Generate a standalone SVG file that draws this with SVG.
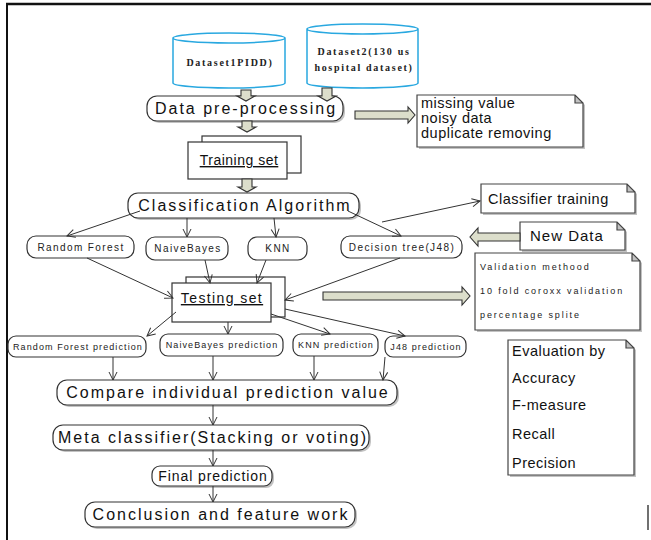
<svg xmlns="http://www.w3.org/2000/svg" width="651" height="540" viewBox="0 0 651 540">
<style>
.box{fill:#fff;stroke:#333;stroke-width:1.2}
.sh{fill:#9a9a9a;stroke:none;opacity:0.6}
.note{fill:#fff;stroke:#444;stroke-width:1.2}
.cyl{fill:#fff;stroke:#29a8e0;stroke-width:1.5}
.big{font-family:"Liberation Sans",Arial,sans-serif;font-size:16px;letter-spacing:2px;fill:#111;text-anchor:middle}
.mid{font-family:"Liberation Sans",Arial,sans-serif;font-size:14.5px;letter-spacing:0.5px;fill:#111}
.sm{font-family:"Liberation Sans",Arial,sans-serif;font-size:10px;letter-spacing:1.4px;fill:#222;text-anchor:middle}
.tiny{font-family:"Liberation Sans",Arial,sans-serif;font-size:9px;letter-spacing:1.1px;fill:#222;text-anchor:middle}
.val{font-family:"Liberation Sans",Arial,sans-serif;font-size:9px;letter-spacing:1.9px;fill:#222}
.ds{font-family:"Liberation Serif","Times New Roman",serif;font-size:10px;font-weight:bold;letter-spacing:1.7px;fill:#222;text-anchor:middle}
.con{fill:none;stroke:#333;stroke-width:1}
.wa{fill:#dcdecb;stroke:#333;stroke-width:1.1}
</style>
<defs>
<marker id="ah" markerWidth="10" markerHeight="10" refX="9" refY="5" orient="auto" markerUnits="userSpaceOnUse">
<path d="M1,1 L9,5 L1,9" fill="none" stroke="#333" stroke-width="1"/>
</marker>
</defs>
<!-- frame -->
<line x1="6" y1="4" x2="651" y2="4" stroke="#111" stroke-width="2.5"/>
<line x1="7" y1="3" x2="7" y2="540" stroke="#111" stroke-width="2"/>
<line x1="648" y1="505" x2="648" y2="530" stroke="#111" stroke-width="1.2"/>

<g id="dataset1">
<path class="cyl" d="M173,38 v45 a56,5 0 0 0 112,0 v-45 a56,5 0 0 0 -112,0 a56,5 0 0 0 112,0"/>
<text class="ds" x="230" y="66">Dataset1PIDD)</text>
</g>
<g id="dataset2">
<path class="cyl" d="M307,29 v54 a55.5,5 0 0 0 111,0 v-54 a55.5,5 0 0 0 -111,0 a55.5,5 0 0 0 111,0"/>
<text class="ds" x="364" y="55">Dataset2(130  us</text>
<text class="ds" x="364" y="71">hospital dataset)</text>
</g>
<g id="preprocessing">
<rect class="sh" x="149" y="98" width="196" height="25" rx="10"/>
<rect class="box" x="147" y="96" width="196" height="25" rx="10"/>
<text class="big" x="246" y="114">Data pre-processing</text>
</g>
<g id="note-preprocess">
<path class="sh" d="M419,97 h158 l8,8 v44 h-166 z"/>
<path class="note" d="M417,95 h158 l8,8 v44 h-166 z M575,95 v8 h8"/>
<text class="mid" x="421" y="108">missing value</text>
<text class="mid" x="421" y="123">noisy data</text>
<text class="mid" x="421" y="138">duplicate removing</text>
</g>
<g id="training-set">
<rect class="box" x="202" y="136" width="99" height="37"/>
<rect class="box" x="188" y="142" width="99" height="37"/>
<text class="mid" x="239" y="165" text-anchor="middle" text-decoration="underline" style="font-size:14px">Training set</text>
</g>
<g id="classification">
<rect class="sh" x="130" y="195" width="231" height="25" rx="10"/>
<rect class="box" x="128" y="193" width="231" height="25" rx="10"/>
<text class="big" x="245" y="211">Classification  Algorithm</text>
</g>
<g id="random-forest">
<rect class="box" x="27" y="236" width="107" height="22" rx="9"/>
<text class="sm" x="81" y="251">Random Forest</text>
</g>
<g id="naivebayes">
<rect class="box" x="146" y="237" width="82" height="23" rx="9"/>
<text class="sm" x="188" y="252">NaiveBayes</text>
</g>
<g id="knn">
<rect class="box" x="248" y="237" width="59" height="23" rx="9"/>
<text class="sm" x="278" y="252">KNN</text>
</g>
<g id="decision-tree">
<rect class="box" x="341" y="236" width="121" height="22" rx="9"/>
<text class="sm" x="402" y="251">Decision  tree(J48)</text>
</g>
<g id="note-classifier-training">
<path class="sh" d="M483,186 h146 l8,8 v21 h-154 z"/>
<path class="note" d="M481,184 h146 l8,8 v21 h-154 z M627,184 v8 h8"/>
<text class="mid" x="488" y="204">Classifier training</text>
</g>
<g id="note-new-data">
<path class="sh" d="M522,224 h97 l8,8 v20 h-105 z"/>
<path class="note" d="M520,222 h97 l8,8 v20 h-105 z M617,222 v8 h8"/>
<text class="mid" x="530" y="241" style="font-size:15px;letter-spacing:1px">New Data</text>
</g>
<g id="note-validation">
<path class="sh" d="M477,255 h157 l8,8 v69 h-165 z"/>
<path class="note" d="M475,253 h157 l8,8 v69 h-165 z M632,253 v8 h8"/>
<text class="val" x="480" y="270">Validation methood</text>
<text class="val" x="480" y="294">10 fold coroxx validation</text>
<text class="val" x="480" y="318">percentage splite</text>
</g>
<g id="testing-set">
<rect class="box" x="186" y="277" width="99" height="40"/>
<rect class="box" x="172" y="283" width="99" height="39"/>
<text class="mid" x="222" y="303" text-anchor="middle" text-decoration="underline" style="font-size:14px;letter-spacing:1.4px">Testing  set</text>
</g>
<g id="rf-prediction">
<rect class="box" x="8" y="336" width="138" height="21" rx="8"/>
<text class="tiny" x="78" y="350">Random Forest prediction</text>
</g>
<g id="nb-prediction">
<rect class="box" x="160" y="334" width="123" height="22" rx="8"/>
<text class="tiny" x="222" y="348">NaiveBayes prediction</text>
</g>
<g id="knn-prediction">
<rect class="box" x="293" y="334" width="85" height="22" rx="8"/>
<text class="tiny" x="336" y="348">KNN prediction</text>
</g>
<g id="j48-prediction">
<rect class="box" x="385" y="336" width="81" height="21" rx="8"/>
<text class="tiny" x="426" y="350">J48 prediction</text>
</g>
<g id="note-evaluation">
<path class="sh" d="M510,342 h118 l8,8 v127 h-126 z"/>
<path class="note" d="M508,340 h118 l8,8 v127 h-126 z M626,340 v8 h8"/>
<text class="mid" x="512" y="356">Evaluation by</text>
<text class="mid" x="512" y="383">Accuracy</text>
<text class="mid" x="512" y="410">F-measure</text>
<text class="mid" x="512" y="439">Recall</text>
<text class="mid" x="512" y="468">Precision</text>
</g>
<g id="compare">
<rect class="sh" x="59" y="382" width="340" height="25" rx="10"/>
<rect class="box" x="57" y="380" width="340" height="25" rx="10"/>
<text class="big" x="228" y="398">Compare individual  prediction value</text>
</g>
<g id="meta-classifier">
<rect class="sh" x="55" y="427" width="316" height="25" rx="10"/>
<rect class="box" x="53" y="425" width="316" height="25" rx="10"/>
<text class="big" x="213" y="443">Meta classifier(Stacking or voting)</text>
</g>
<g id="final-prediction">
<rect class="sh" x="154" y="468" width="120" height="20" rx="8"/>
<rect class="box" x="152" y="466" width="120" height="20" rx="8"/>
<text class="mid" x="213" y="481" text-anchor="middle" style="font-size:14px;letter-spacing:0.9px">Final prediction</text>
</g>
<g id="conclusion">
<rect class="sh" x="87" y="504" width="270" height="25" rx="10"/>
<rect class="box" x="85" y="502" width="270" height="25" rx="10"/>
<text class="big" x="221" y="520">Conclusion and feature work</text>
</g>

<g id="connectors">
<!-- wide arrows -->
<path class="wa" d="M241,90 h10 v6 h4 l-9,5 l-9,-5 h4 z"/>
<path class="wa" d="M322,88 h10 v8 h4 l-9,5 l-9,-5 h4 z"/>
<path class="wa" d="M242,121 h10 v6 h4 l-9,5 l-9,-5 h4 z"/>
<path class="wa" d="M242,179 h10 v8 h4 l-9,5 l-9,-5 h4 z"/>
<path class="wa" d="M355,111 h53 v-4 l7,8 l-7,8 v-4 h-53 z"/>
<path class="wa" d="M323,292 h139 v-5 l8,9 l-8,9 v-5 h-139 z"/>
<path class="wa" d="M520,233 h-42 v-5 l-8,9 l8,9 v-5 h42 z"/>
<!-- thin connectors -->
<line class="con" x1="140" y1="211" x2="67" y2="236" marker-end="url(#ah)"/>
<line class="con" x1="187" y1="218" x2="187" y2="237" marker-end="url(#ah)"/>
<line class="con" x1="274" y1="218" x2="276" y2="237" marker-end="url(#ah)"/>
<line class="con" x1="348" y1="211" x2="401" y2="236" marker-end="url(#ah)"/>
<line class="con" x1="382" y1="222" x2="480" y2="201" marker-end="url(#ah)"/>
<line class="con" x1="87" y1="258" x2="173" y2="298" marker-end="url(#ah)"/>
<line class="con" x1="205" y1="260" x2="210" y2="283" marker-end="url(#ah)"/>
<line class="con" x1="266" y1="260" x2="257" y2="283" marker-end="url(#ah)"/>
<line class="con" x1="400" y1="258" x2="285" y2="300" marker-end="url(#ah)"/>
<line class="con" x1="176" y1="312" x2="147" y2="336" marker-end="url(#ah)"/>
<line class="con" x1="228" y1="322" x2="228" y2="334" marker-end="url(#ah)"/>
<line class="con" x1="271" y1="314" x2="330" y2="334" marker-end="url(#ah)"/>
<line class="con" x1="285" y1="309" x2="405" y2="336" marker-end="url(#ah)"/>
<line class="con" x1="113" y1="357" x2="113" y2="380" marker-end="url(#ah)"/>
<line class="con" x1="213" y1="356" x2="213" y2="380" marker-end="url(#ah)"/>
<line class="con" x1="314" y1="356" x2="314" y2="380" marker-end="url(#ah)"/>
<line class="con" x1="385" y1="357" x2="383" y2="380" marker-end="url(#ah)"/>
<line class="con" x1="213" y1="405" x2="213" y2="425" marker-end="url(#ah)"/>
<line class="con" x1="213" y1="450" x2="213" y2="466" marker-end="url(#ah)"/>
<line class="con" x1="213" y1="486" x2="213" y2="502" marker-end="url(#ah)"/>
</g>
</svg>
